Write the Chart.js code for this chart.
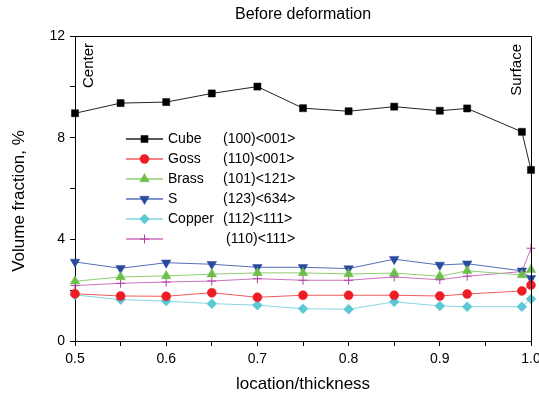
<!DOCTYPE html>
<html>
<head>
<meta charset="utf-8">
<script src="https://cdn.jsdelivr.net/npm/chart.js@4/dist/chart.umd.min.js"></script>
<style>
html, body { margin: 0; padding: 0; background: #fff; }
</style>
</head>
<body>
<canvas id="myChart" width="539" height="398"></canvas>
<script>
var xValues = [0.5, 0.55, 0.6, 0.65, 0.7, 0.75, 0.8, 0.85, 0.9, 0.93, 0.99, 1.0];
var cube   = [8.96, 9.36, 9.40, 9.74, 10.01, 9.16, 9.04, 9.22, 9.06, 9.15, 8.23, 6.73];
var goss   = [1.86, 1.77, 1.76, 1.90, 1.72, 1.80, 1.80, 1.80, 1.77, 1.85, 1.97, 2.20];
var brass  = [2.35, 2.52, 2.56, 2.63, 2.68, 2.68, 2.64, 2.67, 2.55, 2.76, 2.60, 2.80];
var sTex   = [3.11, 2.86, 3.08, 3.02, 2.90, 2.90, 2.85, 3.22, 2.99, 3.04, 2.76, 2.47];
var copper = [1.81, 1.63, 1.57, 1.47, 1.41, 1.27, 1.25, 1.54, 1.38, 1.35, 1.35, 1.65];
var rotCube = [2.18, 2.27, 2.32, 2.36, 2.45, 2.39, 2.39, 2.52, 2.41, 2.55, 2.73, 3.65];

var names = ["Cube", "Goss", "Brass", "S", "Copper", ""];
var codes = ["(100)<001>", "(110)<001>", "(101)<121>", "(123)<634>", "(112)<111>", "(110)<111>"];
var yTickLabels = [0, 4, 8, 12];
var xTickLabels = [0.5, 0.6, 0.7, 0.8, 0.9, 1.0];

var FONT = "'Liberation Sans', Arial, sans-serif";

// marker / line look per series
var styles = [
	{ marker: "#000000", line: "#222222", shape: "rect", r: 5, rot: 0 },
	{ marker: "#ee1c24", line: "#f05a5a", shape: "circle", r: 4.5, rot: 0 },
	{ marker: "#6cbf4a", line: "#8ccf74", shape: "triangle", r: 5.5, rot: 0 },
	{ marker: "#2a4aa0", line: "#5470b8", shape: "triangle", r: 5.5, rot: 180 },
	{ marker: "#5cc8d6", line: "#86d6e0", shape: "rectRot", r: 5, rot: 0 },
	{ marker: "#b040a8", line: "#cc70c0", shape: "cross", r: 4.5, rot: 0 }
];
var series = [cube, goss, brass, sTex, copper, rotCube];

function pts(vals) {
	return vals.map(function (v, i) { return { x: xValues[i], y: v }; });
}

var datasets = series.map(function (vals, i) {
	var s = styles[i];
	return {
		label: names[i] + " " + codes[i],
		data: pts(vals),
		borderColor: s.line,
		borderWidth: 1,
		pointStyle: s.shape,
		pointRotation: s.rot,
		pointRadius: s.r,
		pointBackgroundColor: s.marker,
		pointBorderColor: s.marker,
		pointBorderWidth: s.shape === "cross" ? 1 : 0.5,
		tension: 0,
		clip: false
	};
});

var decor = {
	id: "decor",
	afterDraw: function (chart) {
		var ctx = chart.ctx;
		var a = chart.chartArea;
		var xs = chart.scales.x;
		ctx.save();
		// frame top + right
		ctx.strokeStyle = "#000";
		ctx.lineWidth = 1;
		ctx.beginPath();
		ctx.moveTo(a.left, a.top + 0.5);
		ctx.lineTo(a.right + 0.5, a.top + 0.5);
		ctx.lineTo(a.right + 0.5, a.bottom);
		ctx.stroke();

		ctx.fillStyle = "#000";
		// title
		ctx.font = "16px " + FONT;
		ctx.textAlign = "center";
		ctx.textBaseline = "middle";
		ctx.fillText("Before deformation", (a.left + a.right) / 2, 15);
		// x title
		ctx.font = "17px " + FONT;
		ctx.fillText("location/thickness", (a.left + a.right) / 2, 384);
		// y title
		ctx.save();
		ctx.translate(19, 201);
		ctx.rotate(-Math.PI / 2);
		ctx.fillText("Volume fraction, %", 0, 0);
		ctx.restore();

		// side notes
		ctx.font = "15px " + FONT;
		ctx.textAlign = "right";
		ctx.save();
		ctx.translate(xs.getPixelForValue(0.5) + 14, a.top + 7);
		ctx.rotate(-Math.PI / 2);
		ctx.fillText("Center", 0, 0);
		ctx.restore();
		ctx.save();
		ctx.translate(xs.getPixelForValue(1.0) - 14, a.top + 8);
		ctx.rotate(-Math.PI / 2);
		ctx.fillText("Surface", 0, 0);
		ctx.restore();

		// legend
		ctx.font = "14px " + FONT;
		ctx.textAlign = "left";
		for (var i = 0; i < styles.length; i++) {
			var s = styles[i];
			var y = 139 + i * 20;
			ctx.strokeStyle = s.line;
			ctx.lineWidth = 1.5;
			ctx.beginPath();
			ctx.moveTo(126, y);
			ctx.lineTo(163, y);
			ctx.stroke();
			ctx.fillStyle = s.marker;
			ctx.strokeStyle = s.marker;
			ctx.lineWidth = s.shape === "cross" ? 1 : 0.5;
			Chart.helpers.drawPoint(ctx, { pointStyle: s.shape, radius: s.r, rotation: s.rot, borderWidth: ctx.lineWidth }, 144.5, y);
			ctx.fillStyle = "#000";
			ctx.fillText(names[i], 168, y);
			ctx.fillText(codes[i], i === 5 ? 226 : 223, y);
		}
		ctx.restore();
	}
};

new Chart("myChart", {
	type: "line",
	data: { datasets: datasets },
	plugins: [decor],
	options: {
		responsive: false,
		animation: false,
		layout: { padding: { top: 36, right: 8, left: 0, bottom: 0 } },
		plugins: {
			legend: { display: false },
			title: { display: false },
			tooltip: { enabled: false }
		},
		scales: {
			x: {
				type: "linear",
				min: 0.5,
				max: 1.0,
				afterFit: function (scale) {
					scale.height = 57;
					scale.paddingLeft = 0;
					scale.paddingRight = 0;
				},
				border: { display: true, color: "#000", width: 1 },
				grid: { display: true, drawOnChartArea: false, drawTicks: true, tickLength: 5, color: "#000" },
				ticks: {
					stepSize: 0.05,
					autoSkip: false,
					maxRotation: 0,
					padding: 5,
					color: "#000",
					font: { family: FONT, size: 14 },
					callback: function (v) {
						var r = Math.round(v * 100) / 100;
						return xTickLabels.indexOf(r) >= 0 ? r.toFixed(1) : "";
					}
				}
			},
			y: {
				min: 0,
				max: 12,
				afterFit: function (scale) {
					scale.width = 75;
					scale.paddingTop = 0;
					scale.paddingBottom = 0;
				},
				border: { display: true, color: "#000", width: 1 },
				grid: { display: true, drawOnChartArea: false, drawTicks: true, tickLength: 5, color: "#000" },
				ticks: {
					stepSize: 2,
					autoSkip: false,
					padding: 5,
					color: "#000",
					font: { family: FONT, size: 14 },
					callback: function (v) {
						return yTickLabels.indexOf(v) >= 0 ? String(v) : "";
					}
				}
			}
		}
	}
});
</script>
</body>
</html>
